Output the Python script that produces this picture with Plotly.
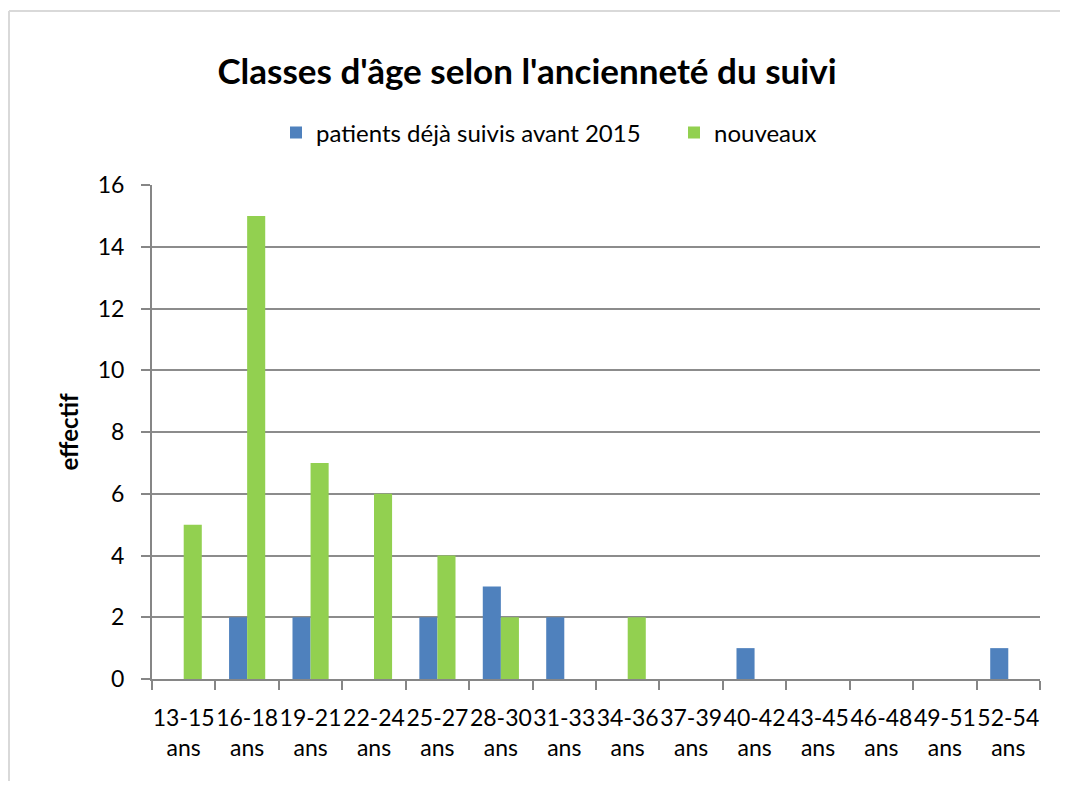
import plotly.graph_objects as go

categories = ["13-15<br>ans", "16-18<br>ans", "19-21<br>ans", "22-24<br>ans", "25-27<br>ans",
              "28-30<br>ans", "31-33<br>ans", "34-36<br>ans", "37-39<br>ans", "40-42<br>ans",
              "43-45<br>ans", "46-48<br>ans", "49-51<br>ans", "52-54<br>ans"]
anciens = [0, 2, 2, 0, 2, 3, 2, 0, 0, 1, 0, 0, 0, 1]
nouveaux = [5, 15, 7, 6, 4, 2, 0, 2, 0, 0, 0, 0, 0, 0]
y_ticks = [0, 2, 4, 6, 8, 10, 12, 14, 16]

FONT = "Lato, 'Open Sans', sans-serif"
OFF = 8  # page body margin

fig = go.Figure()
fig.add_trace(go.Bar(x=categories, y=anciens, name="patients déjà suivis avant 2015",
                     marker=dict(color="#4F81BD", line=dict(width=0)), legend="legend"))
fig.add_trace(go.Bar(x=categories, y=nouveaux, name="nouveaux",
                     marker=dict(color="#92D050", line=dict(width=0)), legend="legend2"))

W, H = 1052, 773
L = 152 - OFF
T = 185 - OFF
R = W - (1040 - OFF)
B = H - (679 - OFF)
pw, ph = W - L - R, H - T - B

def px_x(s):
    return (s - OFF - L) / pw

def px_y(s):
    return (H - B - (s - OFF)) / ph

leg_common = dict(orientation="h", yanchor="middle", y=px_y(133),
                  font=dict(size=24, family=FONT, color="black"),
                  itemwidth=30, bgcolor="rgba(0,0,0,0)", xanchor="left")

fig.update_layout(
    width=W, height=H,
    margin=dict(l=L, r=R, t=T, b=B),
    paper_bgcolor="white", plot_bgcolor="white",
    barmode="group", bargap=0.43, bargroupgap=0,
    font=dict(family=FONT, color="black"),
    title=dict(text="<b>Classes d'âge selon l'ancienneté du suivi</b>",
               font=dict(size=35, family=FONT, color="black"),
               x=px_x(527), xref="paper", xanchor="center",
               y=1 - (72 - OFF) / H, yref="container", yanchor="middle"),
    legend=dict(x=px_x(276), **leg_common),
    legend2=dict(x=px_x(674), **leg_common),
    showlegend=True,
    xaxis=dict(type="category", tickson="boundaries", ticks="outside", ticklen=9,
               tickcolor="#868686", tickwidth=2, showline=True, linecolor="#868686", linewidth=2,
               tickangle=0, tickfont=dict(size=23, family=FONT, color="black"),
               ticklabelstandoff=17, showgrid=False),
    yaxis=dict(range=[0, 16], tickvals=y_ticks, ticks="outside", ticklen=9,
               tickcolor="#868686", tickwidth=2, showline=True, linecolor="#868686", linewidth=2,
               showgrid=True, gridcolor="#8C8C8C", gridwidth=1.5, zeroline=False,
               tickfont=dict(size=23, family=FONT, color="black"), ticklabelstandoff=12,
               title=dict(text="<b>effectif</b>", font=dict(size=24, family=FONT, color="black"),
                          standoff=12)),
)

# chart frame (left and top edges)
fig.add_shape(type="line", xref="paper", yref="paper",
              x0=px_x(9), x1=px_x(9), y0=px_y(11), y1=px_y(800),
              line=dict(color="#D9D9D9", width=2), layer="below")
fig.add_shape(type="line", xref="paper", yref="paper",
              x0=px_x(9), x1=px_x(1080), y0=px_y(11), y1=px_y(11),
              line=dict(color="#D9D9D9", width=2), layer="below")

fig.write_html("out.html")
